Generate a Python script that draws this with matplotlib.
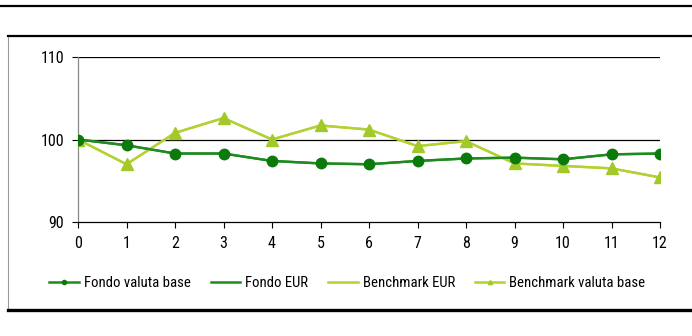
import matplotlib.pyplot as plt
from matplotlib.patches import Rectangle
from matplotlib.lines import Line2D

# dati
mesi = list(range(13))
fondo_base = [100.0, 99.3, 98.3, 98.3, 97.4, 97.1, 97.0, 97.4, 97.7, 97.8, 97.6, 98.2, 98.3]
fondo_eur = [100.0, 99.3, 98.3, 98.3, 97.4, 97.1, 97.0, 97.4, 97.7, 97.8, 97.6, 98.2, 98.3]
bench_eur = [100.0, 97.0, 100.8, 102.6, 100.0, 101.7, 101.2, 99.2, 99.8, 97.1, 96.8, 96.5, 95.4]
bench_base = [100.0, 97.0, 100.8, 102.6, 100.0, 101.7, 101.2, 99.2, 99.8, 97.1, 96.8, 96.5, 95.4]
y_ticks = [90, 100, 110]
labels = ['Fondo valuta base', 'Fondo EUR', 'Benchmark EUR', 'Benchmark valuta base']

verde = '#1f8a1f'
verde_m = '#0b7a0b'
giallo = '#b2d234'
giallo_m = '#a2c82a'

plt.rcParams['font.family'] = ['Roboto Condensed', 'Barlow Condensed', 'Archivo Narrow',
                               'Liberation Sans', 'DejaVu Sans']

fig = plt.figure(figsize=(6.92, 3.36), dpi=100)
W, H = 692, 336

# cornice
fig.add_artist(Line2D([0, 1], [1 - 6 / H, 1 - 6 / H], color='black', lw=1.6))
fig.add_artist(Rectangle((8 / W, 1 - 310 / H), 1, (310 - 36) / H, fill=False,
                         edgecolor='#999999', lw=0.8))
fig.add_artist(Line2D([8 / W, 1], [1 - 36 / H, 1 - 36 / H], color='black', lw=1.6))
fig.add_artist(Line2D([8 / W, 1], [1 - 310 / H, 1 - 310 / H], color='black', lw=2.4))

ax = fig.add_axes([78 / W, 1 - 222 / H, (660 - 78) / W, (222 - 57) / H])
ax.plot(mesi, fondo_eur, color=verde, lw=1.7, zorder=3)
ax.plot(mesi, fondo_base, color=verde, lw=1.7, marker='o', ms=7.5,
        mfc=verde_m, mec=verde_m, zorder=4)
ax.plot(mesi, bench_eur, color=giallo, lw=1.7, zorder=3)
ax.plot(mesi, bench_base, color=giallo, lw=1.7, marker='^', ms=8,
        mfc=giallo_m, mec=giallo_m, zorder=3)

ax.set_xlim(0, 12)
ax.set_ylim(90, 110)
ax.set_xticks(mesi)
ax.set_yticks(y_ticks)
ax.axhline(100, color='black', lw=0.9, zorder=2)
ax.axhline(110, color='black', lw=0.9, zorder=2)
for s in ['top', 'right']:
    ax.spines[s].set_visible(False)
ax.spines['left'].set_color('#888888')
ax.spines['left'].set_linewidth(0.9)
ax.spines['bottom'].set_linewidth(0.9)
ax.tick_params(axis='both', length=4, width=0.8, labelsize=11.5, pad=6)
ax.set_clip_on(False)

handles = [
    Line2D([], [], color=verde, lw=1.8, marker='o', ms=3, mfc=verde_m, mec=verde_m),
    Line2D([], [], color=verde, lw=1.8),
    Line2D([], [], color=giallo, lw=1.8),
    Line2D([], [], color=giallo, lw=1.8, marker='^', ms=3, mfc=giallo_m, mec=giallo_m),
]
fig.legend(handles, labels, loc='center left', bbox_to_anchor=(36 / W, 1 - 283 / H),
           ncol=4, frameon=False, fontsize=10.6, handlelength=2.0, handletextpad=0.35,
           columnspacing=1.35)

fig.savefig('out.png', dpi=100)
